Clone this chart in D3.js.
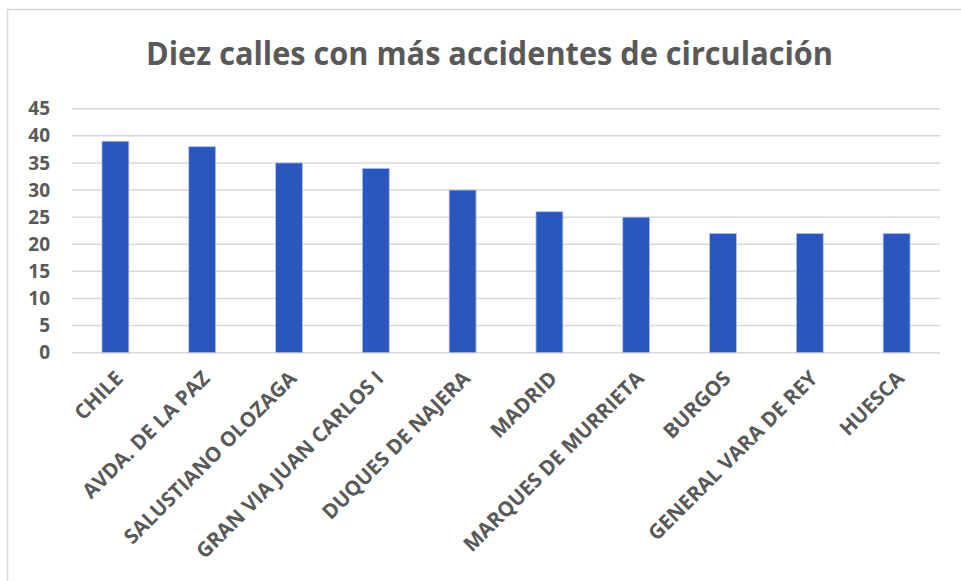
<!DOCTYPE html>
<html>
<head>
<meta charset="utf-8">
<script src="https://cdn.jsdelivr.net/npm/d3@7"></script>
<style>
  html, body { margin: 0; padding: 0; background: #fff; }
  svg { display: block; }
</style>
</head>
<body>
<svg id="chart" width="961" height="581"></svg>
<script>
// Street names and number of traffic accidents recorded on each
const calles = ["CHILE", "AVDA. DE LA PAZ", "SALUSTIANO OLOZAGA", "GRAN VIA JUAN CARLOS I",
  "DUQUES DE NAJERA", "MADRID", "MARQUES DE MURRIETA", "BURGOS", "GENERAL VARA DE REY", "HUESCA"];
const accidentes = [39, 38, 35, 34, 30, 26, 25, 22, 22, 22];
const yTicks = [0, 5, 10, 15, 20, 25, 30, 35, 40, 45];
const titulo = "Diez calles con más accidentes de circulación";

const svg = d3.select("#chart");
const textColor = "#595959";
const font = "'Open Sans', 'Noto Sans', sans-serif";

// chart frame
svg.append("rect")
  .attr("x", 7.5).attr("y", 9.5)
  .attr("width", 980).attr("height", 600)
  .attr("fill", "#fff")
  .attr("stroke", "#d9d9d9").attr("stroke-width", 1.5);

const plot = { left: 72, right: 940, top: 108.7, bottom: 352.7 };

const x = d3.scaleBand()
  .domain(calles)
  .range([plot.left, plot.right])
  .paddingInner(0.69)
  .paddingOuter(0.345);

const y = d3.scaleLinear()
  .domain([0, 45])
  .range([plot.bottom, plot.top]);

// title
svg.append("text")
  .attr("x", 489.5).attr("y", 65)
  .attr("text-anchor", "middle")
  .attr("font-family", font)
  .attr("font-weight", 700)
  .attr("font-size", 32)
  .attr("fill", textColor)
  .attr("textLength", 687)
  .attr("lengthAdjust", "spacingAndGlyphs")
  .text(titulo);

// horizontal gridlines
svg.append("g")
  .selectAll("line")
  .data(yTicks)
  .join("line")
  .attr("x1", plot.left).attr("x2", plot.right)
  .attr("y1", d => y(d)).attr("y2", d => y(d))
  .attr("stroke", "#d9d9d9").attr("stroke-width", 1.5);

// y axis labels
const yAxis = svg.append("g")
  .attr("transform", `translate(${plot.left},0)`)
  .call(d3.axisLeft(y).tickValues(yTicks).tickSize(0).tickPadding(22));
yAxis.select(".domain").remove();
yAxis.selectAll("text")
  .attr("font-family", font)
  .attr("font-weight", 700)
  .attr("font-size", 19)
  .attr("fill", textColor);

// bars
svg.append("g")
  .selectAll("rect")
  .data(calles)
  .join("rect")
  .attr("x", d => x(d))
  .attr("y", (d, i) => y(accidentes[i]))
  .attr("width", x.bandwidth())
  .attr("height", (d, i) => y(0) - y(accidentes[i]))
  .attr("fill", "#2a57bd")
  .attr("stroke", "#b7c4ea")
  .attr("stroke-width", 0.8);

// rotated category labels
const xAxis = svg.append("g")
  .attr("transform", `translate(0,${plot.bottom})`)
  .call(d3.axisBottom(x).tickSize(0).tickPadding(0));
xAxis.select(".domain").remove();
xAxis.selectAll("text")
  .attr("font-family", font)
  .attr("font-weight", 700)
  .attr("font-size", 20.5)
  .attr("fill", textColor)
  .attr("text-anchor", "end")
  .attr("dy", null)
  .attr("transform", "translate(9,27) rotate(-45)");
</script>
</body>
</html>
